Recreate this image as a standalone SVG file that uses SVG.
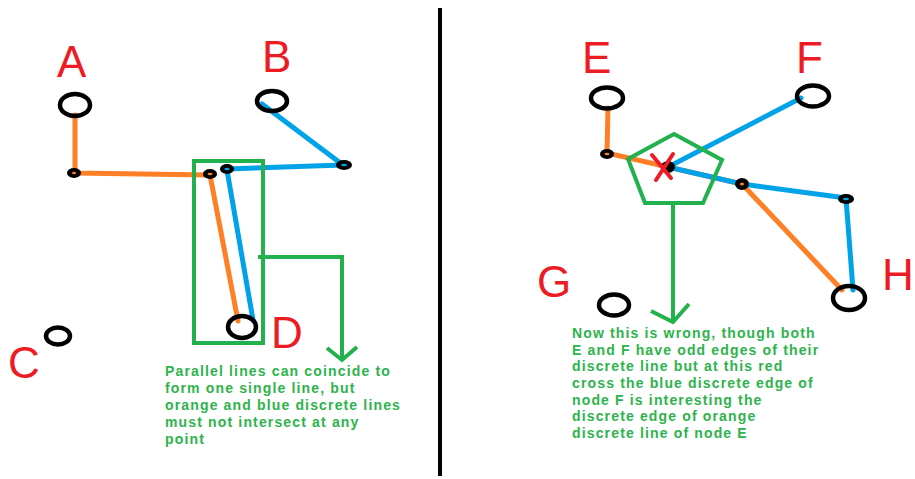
<svg xmlns="http://www.w3.org/2000/svg" width="915" height="479" viewBox="0 0 915 479">
<style>
.lbl{font-family:"Liberation Sans",Arial,sans-serif;font-size:44px;fill:#ed1c24}
.node{fill:none;stroke:#000;stroke-width:4.5}
.dot{fill:#000}
.or{stroke:#ff7f27;stroke-width:5;fill:none;stroke-linecap:round}
.bl{stroke:#00a2e8;stroke-width:5;fill:none;stroke-linecap:round}
.gr{stroke:#22b14c;stroke-width:4;fill:none;stroke-linejoin:miter}
.note{font-family:"Liberation Sans",Arial,sans-serif;font-weight:bold;font-size:14px;letter-spacing:1.15px;fill:#2db34c}
</style>
<rect width="915" height="479" fill="#fff"/>
<line x1="440" y1="8" x2="440" y2="476" stroke="#000" stroke-width="4"/>
<g id="connectors">
<polyline class="or" points="75,115 75,173 210,175"/>
<line class="or" x1="210" y1="175" x2="238" y2="321"/>
<polyline class="bl" points="262,104 343,165 227,169"/>
<line class="bl" x1="227" y1="170" x2="253" y2="320"/>
<polyline class="or" points="608,108 607,153 742,184 842,290"/>
<polyline class="bl" points="801,98 668,167 742,184 846,198 853,290"/>
</g>
<g id="A"><text class="lbl" x="57" y="77">A</text><ellipse class="node" cx="75" cy="105" rx="15" ry="11"/></g>
<g id="B"><text class="lbl" x="262" y="72">B</text><ellipse class="node" cx="272" cy="101" rx="15" ry="10"/></g>
<g id="C"><text class="lbl" x="8" y="378">C</text><ellipse class="node" cx="58" cy="336" rx="12" ry="8.5"/></g>
<g id="D"><text class="lbl" x="271" y="348">D</text><ellipse class="node" cx="242" cy="327" rx="14" ry="11"/></g>
<g id="E"><text class="lbl" x="582" y="73">E</text><ellipse class="node" cx="607" cy="98" rx="16" ry="10.5"/></g>
<g id="F"><text class="lbl" x="796" y="73">F</text><ellipse class="node" cx="813" cy="96" rx="16" ry="10.5"/></g>
<g id="G"><text class="lbl" x="537" y="297">G</text><ellipse class="node" cx="614" cy="305" rx="15" ry="10.5"/></g>
<g id="H"><text class="lbl" x="882" y="290">H</text><ellipse class="node" cx="849" cy="298" rx="16" ry="12"/></g>
<g id="junctions">
<ellipse class="dot" cx="74" cy="173" rx="7" ry="5"/><ellipse cx="74" cy="173" rx="2" ry="1.2" fill="#ff7f27"/>
<ellipse class="dot" cx="210" cy="174" rx="7" ry="5"/><ellipse cx="210" cy="174" rx="2.5" ry="1.2" fill="#ff7f27"/>
<ellipse class="dot" cx="227" cy="169" rx="7" ry="5"/><ellipse cx="227" cy="169" rx="2.5" ry="1.2" fill="#00a2e8"/>
<ellipse class="dot" cx="344" cy="165" rx="8" ry="5"/><ellipse cx="344" cy="165" rx="3" ry="1.2" fill="#00a2e8"/>
<ellipse class="dot" cx="607" cy="154" rx="7" ry="5"/><ellipse cx="607" cy="154" rx="2.5" ry="1.2" fill="#ff7f27"/>
<ellipse class="dot" cx="668" cy="167" rx="7" ry="6"/>
<ellipse class="dot" cx="742" cy="184" rx="7" ry="6"/><ellipse cx="742" cy="184" rx="2" ry="1.5" fill="#ff7f27"/>
<ellipse class="dot" cx="846" cy="199" rx="8" ry="5"/><ellipse cx="846" cy="199" rx="3" ry="1.2" fill="#00a2e8"/>
</g>
<g id="cross">
<path d="M652,155 L671,178 M673,154 L656,180" stroke="#ed1c24" stroke-width="4" fill="none" stroke-linecap="round"/>
</g>
<g id="left-note">
<rect class="gr" x="194" y="161" width="69" height="182"/>
<polyline class="gr" points="258,257 342,257 342,359"/>
<polyline class="gr" points="327,348 342,360 357,347"/>
<text class="note"><tspan x="165" y="376">Parallel lines can coincide to</tspan><tspan x="165" y="393">form one single line, but</tspan><tspan x="165" y="410">orange and blue discrete lines</tspan><tspan x="165" y="427">must not intersect at any</tspan><tspan x="165" y="444">point</tspan></text>
</g>
<g id="right-note">
<polygon class="gr" points="674,134 722,160 703,203 645,203 628,159"/>
<line class="gr" x1="673" y1="203" x2="673" y2="321"/>
<polyline class="gr" points="651,311 673,322 689,304"/>
<text class="note"><tspan x="572" y="338">Now this is wrong, though both</tspan><tspan x="572" y="354.7">E and F have odd edges of their</tspan><tspan x="572" y="371.3">discrete line but at this red</tspan><tspan x="572" y="388">cross the blue discrete edge of</tspan><tspan x="572" y="404.7">node F is interesting the</tspan><tspan x="572" y="421.3">discrete edge of orange</tspan><tspan x="572" y="438">discrete line of node E</tspan></text>
</g>
</svg>
